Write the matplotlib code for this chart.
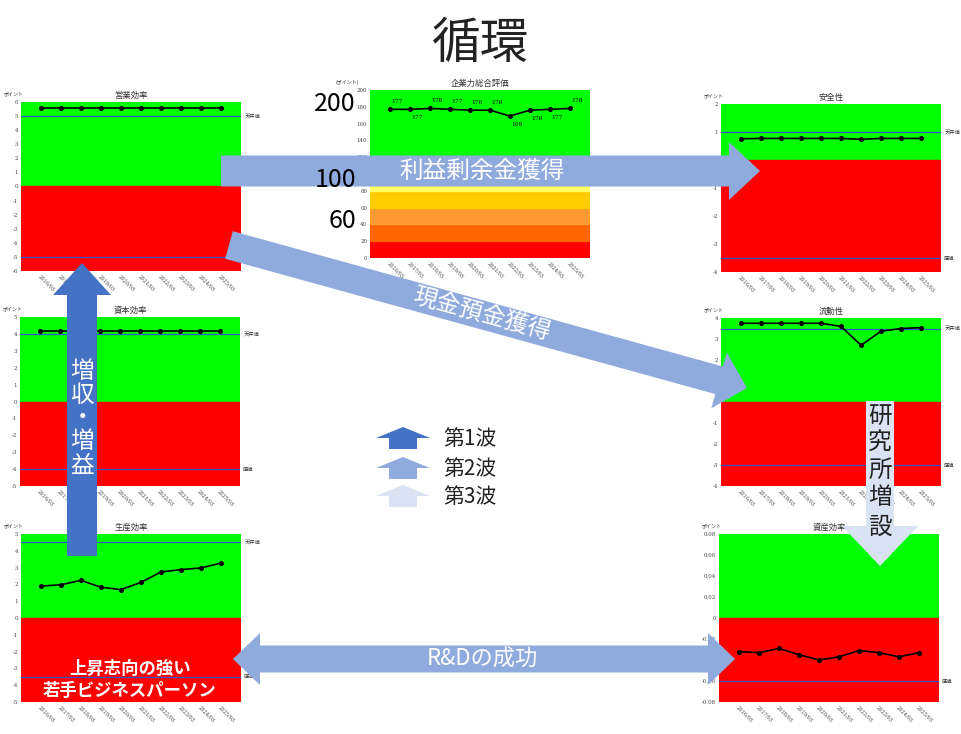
import numpy as np
import matplotlib
matplotlib.use('Agg')
import matplotlib.pyplot as plt
import matplotlib.transforms as mtransforms
from matplotlib.patches import Polygon

plt.rcParams['font.family'] = ['Noto Sans CJK JP', 'DejaVu Sans']

W, H = 961, 734

# data
dates = ['2016/03', '2017/03', '2018/03', '2019/03', '2020/03',
         '2021/03', '2022/03', '2023/03', '2024/03', '2025/03']

eigyo = [5.6, 5.6, 5.6, 5.6, 5.6, 5.6, 5.6, 5.6, 5.6, 5.6]
shihon = [4.15, 4.15, 4.15, 4.15, 4.15, 4.15, 4.15, 4.15, 4.15, 4.15]
seisan = [1.9, 1.98, 2.24, 1.83, 1.69, 2.12, 2.74, 2.88, 2.98, 3.27]
anzen = [0.76, 0.77, 0.77, 0.77, 0.77, 0.77, 0.74, 0.77, 0.77, 0.77]
ryudo = [3.75, 3.75, 3.75, 3.75, 3.75, 3.6, 2.7, 3.37, 3.5, 3.54]
shisan = [-0.032, -0.033, -0.029, -0.035, -0.040, -0.037, -0.031, -0.033, -0.037, -0.033]
sogo = [177, 177, 178, 177, 176, 176, 169, 176, 177, 178]
sogo_label_above = [True, False, True, True, True, True, False, False, False, True]

band_edges = [0, 20, 40, 60, 80, 100, 200]
band_colors = ['#FF0000', '#FF6600', '#FF9933', '#FFCC00', '#FFFF66', '#00FF00']

green = '#00FF00'
red = '#FF0000'
limit_color = '#3355CC'
dark_blue = '#4472C4'
mid_blue = '#8FAADC'
light_blue = '#DAE3F3'

fig = plt.figure(figsize=(W / 100, H / 100), dpi=100)
fig.patch.set_facecolor('white')


def px_axes(x0, y0, x1, y1):
    return fig.add_axes([x0 / W, 1 - y1 / H, (x1 - x0) / W, (y1 - y0) / H])


def style_common(ax):
    ax.set_xlim(-1, len(dates))
    ax.set_xticks(range(len(dates)))
    ax.set_xticklabels(dates, rotation=-45, ha='left', va='top',
                       rotation_mode='anchor', fontsize=3.6,
                       family=['DejaVu Serif'], color='#444444')
    ax.tick_params(length=0, pad=2)
    for lab in ax.get_yticklabels():
        lab.set_fontsize(4)
        lab.set_family(['DejaVu Serif'])
        lab.set_color('#444444')
    for s in ax.spines.values():
        s.set_visible(False)


def small_chart(rect, title, values, lo, hi, step, ceil=None, floor=None, fmt='{:g}'):
    ax = px_axes(*rect)
    ax.axhspan(0, hi, color=green, zorder=0)
    ax.axhspan(lo, 0, color=red, zorder=0)
    trans = mtransforms.blended_transform_factory(ax.transAxes, ax.transData)
    if ceil is not None:
        ax.axhline(ceil, color=limit_color, lw=0.9, zorder=1)
        ax.text(1.015, ceil, '天井値', transform=trans, fontsize=3.8, va='center', color='#333333')
    if floor is not None:
        ax.axhline(floor, color=limit_color, lw=0.9, zorder=1)
        ax.text(1.015, floor, '底値', transform=trans, fontsize=3.8, va='center', color='#333333')
    ax.plot(range(len(values)), values, color='black', lw=1.2, marker='o', ms=2.6, zorder=3)
    ax.set_ylim(lo, hi)
    ticks = np.arange(lo, hi + step / 2, step)
    ax.set_yticks(ticks)
    ax.set_yticklabels([fmt.format(round(t, 4)) for t in ticks])
    ax.set_title(title, fontsize=6, pad=3, color='#333333')
    # small unit label just above the y tick labels
    w = rect[2] - rect[0]
    h = rect[3] - rect[1]
    ax.text(-17 / w, 1 + 8 / h, 'ポイント', transform=ax.transAxes, fontsize=3.6,
            ha='left', va='center', color='#333333', style='italic')
    style_common(ax)
    return ax


small_chart((21, 102, 241, 271), '営業効率', eigyo, -6, 6, 1, 5, -5)
small_chart((20, 317, 240, 486), '資本効率', shihon, -5, 5, 1, 4, -4)
small_chart((21, 534, 241, 702), '生産効率', seisan, -5, 5, 1, 4.5, -3.5)
small_chart((721, 104, 941, 272), '安全性', anzen, -4, 2, 1, 1, -3.5)
small_chart((721, 318, 941, 486), '流動性', ryudo, -4, 4, 1, 3.5, -3)
small_chart((719, 534, 939, 702), '資産効率', shisan, -0.08, 0.08, 0.02, None, -0.06, fmt='{:g}')

# center chart
axc = px_axes(370, 90, 590, 258)
for i, c in enumerate(band_colors):
    axc.axhspan(band_edges[i], band_edges[i + 1], color=c, zorder=0)
axc.plot(range(len(sogo)), sogo, color='black', lw=1.2, marker='o', ms=2.6, zorder=3)
for i, v in enumerate(sogo):
    dy = 4 if sogo_label_above[i] else -4
    axc.annotate(str(v), (i, v), xytext=(1, dy), textcoords='offset points',
                 fontsize=4.2, family=['DejaVu Serif'],
                 va='bottom' if sogo_label_above[i] else 'top', ha='left')
axc.set_ylim(0, 200)
axc.set_yticks(range(0, 201, 20))
axc.set_title('企業力総合評価', fontsize=6, pad=3, color='#333333')
axc.text(-0.05, 1.03, '(ポイント)', transform=axc.transAxes, fontsize=3.6,
         ha='right', va='bottom', color='#333333')
style_common(axc)

# overlay for the annotation shapes
ov = fig.add_axes([0, 0, 1, 1])
ov.set_zorder(10)
ov.set_xlim(0, W)
ov.set_ylim(H, 0)
ov.axis('off')
ov.patch.set_alpha(0)


def arrow(x0, y0, x1, y1, bw, hw, hl, color, double=False):
    p0 = np.array([x0, y0], dtype=float)
    d = np.array([x1 - x0, y1 - y0], dtype=float)
    L = np.hypot(*d)
    u = d / L
    n = np.array([-u[1], u[0]])
    if double:
        loc = [(0, 0), (hl, -hw), (hl, -bw), (L - hl, -bw), (L - hl, -hw), (L, 0),
               (L - hl, hw), (L - hl, bw), (hl, bw), (hl, hw)]
    else:
        loc = [(0, -bw), (L - hl, -bw), (L - hl, -hw), (L, 0),
               (L - hl, hw), (L - hl, bw), (0, bw)]
    pts = [p0 + a * u + b * n for a, b in loc]
    ov.add_patch(Polygon(pts, closed=True, facecolor=color, edgecolor='none'))


ov.text(481, 44, '循環', fontsize=35, ha='center', va='center', color='#222222')

ov.text(356, 104, '200', fontsize=18, ha='right', va='center', color='black')
ov.text(356, 180, '100', fontsize=18, ha='right', va='center', color='black')
ov.text(356, 221, '60', fontsize=18, ha='right', va='center', color='black')

# 利益剰余金獲得
arrow(221, 171, 760, 171, 15.5, 29, 31, mid_blue)
ov.text(482, 171, '利益剰余金獲得', fontsize=17, ha='center', va='center', color='white')

# 現金預金獲得
arrow(229, 245, 747, 388, 14.3, 29, 29, mid_blue)
ov.text(482, 314, '現金預金獲得', fontsize=17, ha='center', va='center',
        color='white', rotation=-15.4, rotation_mode='anchor')

# 増収・増益
arrow(82, 556, 82, 263, 15, 29, 32, dark_blue)
for ch, y in zip('増収・増益', [372, 395, 418, 442, 466]):
    ov.text(82, y, ch, fontsize=17, ha='center', va='center', color='white')

# 研究所増設
arrow(880, 401, 880, 566, 14, 38, 40, light_blue)
for ch, y in zip('研究所増設', [416, 443, 470, 498, 527]):
    ov.text(880, y, ch, fontsize=17, ha='center', va='center', color='#222222')

# R&Dの成功
arrow(233, 659, 735, 659, 13.5, 26, 27, mid_blue, double=True)
ov.text(482, 659, 'R&Dの成功', fontsize=16, ha='center', va='center', color='white')

ov.text(130, 669, '上昇志向の強い', fontsize=12.5, ha='center', va='center',
        color='white', fontweight='bold')
ov.text(130, 691, '若手ビジネスパーソン', fontsize=12.5, ha='center', va='center',
        color='white', fontweight='bold')

# legend
for lab, col, ytip in zip(['第1波', '第2波', '第3波'],
                          [dark_blue, mid_blue, light_blue], [427, 457, 485]):
    arrow(403, ytip + 22, 403, ytip, 14, 27, 11, col)
    ov.text(443, ytip + 12, lab, fontsize=15, ha='left', va='center', color='#222222')

fig.savefig('out.png', dpi=100, facecolor='white')
